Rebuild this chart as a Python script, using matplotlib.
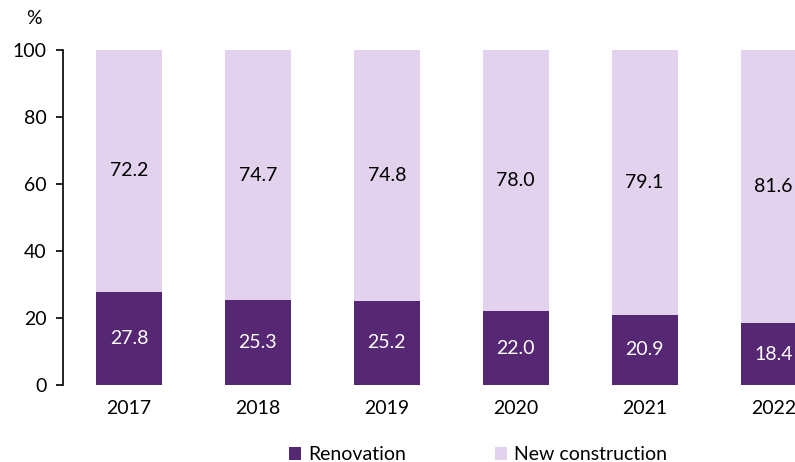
import matplotlib.pyplot as plt
import numpy as np

plt.rcParams['font.family'] = ['Lato', 'DejaVu Sans']

years = ['2017', '2018', '2019', '2020', '2021', '2022']
renovation = [27.8, 25.3, 25.2, 22.0, 20.9, 18.4]
new_construction = [72.2, 74.7, 74.8, 78.0, 79.1, 81.6]

dark = '#562873'
light = '#E2D2EE'
fs = 14

fig = plt.figure(figsize=(7.95, 4.62), dpi=100)
# axes runs past the right edge so the last bar is cut, as in the original
ax = fig.add_axes([63 / 795, 77 / 462, 775 / 795, 335 / 462])

x = np.arange(len(years))
w = 0.51
b1 = ax.bar(x, renovation, w, color=dark, label='Renovation')
b2 = ax.bar(x, new_construction, w, bottom=renovation, color=light, label='New construction')

for i in range(len(years)):
    ax.text(x[i], renovation[i] / 2, f'{renovation[i]:.1f}', ha='center', va='center',
            color='white', fontsize=fs)
    ax.text(x[i], renovation[i] + new_construction[i] / 2, f'{new_construction[i]:.1f}',
            ha='center', va='center', color='black', fontsize=fs)

ax.set_xlim(-0.512, 5.5)
ax.set_ylim(0, 100)
ax.set_yticks([0, 20, 40, 60, 80, 100])
ax.set_xticks(x)
ax.set_xticklabels(years)
ax.tick_params(axis='y', labelsize=fs, length=5, width=1.2, pad=7)
ax.tick_params(axis='x', labelsize=fs, length=0, pad=11)
for s in ['top', 'right', 'bottom']:
    ax.spines[s].set_visible(False)
ax.spines['left'].set_linewidth(1.2)

fig.text(34 / 795, 1 - 18 / 462, '%', ha='center', va='center', fontsize=fs)

fig.legend(handles=[b1, b2], loc='center', bbox_to_anchor=(478 / 795, 1 - 455 / 462),
           ncol=2, frameon=False, fontsize=fs, handlelength=0.6, handleheight=0.6,
           handletextpad=0.35, columnspacing=4.6)

fig.savefig('out.png', dpi=100)
